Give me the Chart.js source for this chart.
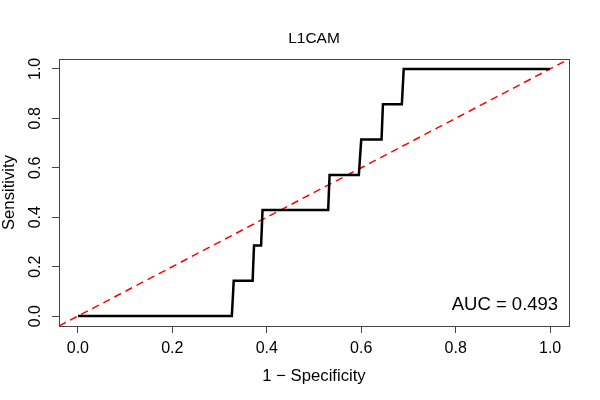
<!DOCTYPE html>
<html>
<head>
<meta charset="utf-8">
<script src="https://cdn.jsdelivr.net/npm/chart.js@4.4.0/dist/chart.umd.min.js"></script>
<style>
  html, body { margin: 0; padding: 0; background: #fff; }
  #wrap { width: 600px; height: 400px; }
</style>
</head>
<body>
<div id="wrap"><canvas id="roc"></canvas></div>
<script>
// ROC curve for L1CAM
var markerName = "L1CAM";
var aucValue = 0.493;
var fpr = [0, 0.326, 0.330, 0.370, 0.373, 0.388, 0.391, 0.530, 0.533, 0.595, 0.600, 0.643, 0.646, 0.686, 0.690, 1.0];
var tpr = [0, 0, 0.143, 0.143, 0.286, 0.286, 0.429, 0.429, 0.571, 0.571, 0.714, 0.714, 0.857, 0.857, 1.0, 1.0];
var refLine = [-0.04, 1.04];
var axisTicks = [0, 0.2, 0.4, 0.6, 0.8, 1.0];

var FONT = "'Liberation Sans', Arial, sans-serif";

function toPoints(xs, ys) {
    var pts = [];
    for (var i = 0; i < xs.length; i++) {
        pts.push({ x: xs[i], y: ys[i] });
    }
    return pts;
}

// R style box around the plot region, main title over the plot and the AUC label
const boxPlugin = {
    id: "rbox",
    afterDraw(chart) {
        const ctx = chart.ctx;
        const a = chart.chartArea;
        ctx.save();
        ctx.strokeStyle = "#444";
        ctx.lineWidth = 1;
        ctx.strokeRect(Math.round(a.left) + 0.5, Math.round(a.top) + 0.5,
            Math.round(a.right - a.left), Math.round(a.bottom - a.top));

        ctx.fillStyle = "#000";
        ctx.textBaseline = "middle";
        ctx.textAlign = "center";
        ctx.font = "15.5px " + FONT;
        ctx.fillText(markerName, (a.left + a.right) / 2, 38.5);

        const xs = chart.scales.x, ys = chart.scales.y;
        ctx.font = "18.5px " + FONT;
        ctx.textAlign = "right";
        ctx.fillText("AUC = " + aucValue.toFixed(3), xs.getPixelForValue(1.017), ys.getPixelForValue(0.045));
        ctx.restore();
    }
};

const config = {
    type: "scatter",
    data: {
        datasets: [
            {
                label: "ROC",
                data: toPoints(fpr, tpr),
                showLine: true,
                borderColor: "#000",
                borderWidth: 2.5,
                pointRadius: 0,
                fill: false,
                tension: 0
            },
            {
                label: "chance",
                data: toPoints(refLine, refLine),
                showLine: true,
                borderColor: "#ff0000",
                borderWidth: 1.5,
                borderDash: [7.5, 5],
                pointRadius: 0,
                fill: false
            }
        ]
    },
    options: {
        responsive: true,
        maintainAspectRatio: false,
        animation: false,
        layout: { padding: { left: 0, right: 31, top: 59, bottom: 0 } },
        plugins: {
            legend: { display: false },
            tooltip: { enabled: false },
            title: { display: false }
        },
        scales: {
            x: {
                type: "linear",
                min: -0.04,
                max: 1.04,
                afterFit(scale) { scale.height = 74; },
                afterBuildTicks(scale) { scale.ticks = axisTicks.map(v => ({ value: v })); },
                grid: { drawOnChartArea: false, drawTicks: true, tickLength: 7, color: "#444" },
                border: { display: false },
                ticks: {
                    color: "#000",
                    padding: 6,
                    maxRotation: 0,
                    font: { family: FONT, size: 16 },
                    callback: v => v.toFixed(1)
                },
                title: {
                    display: true,
                    text: "1 \u2212 Specificity",
                    color: "#000",
                    font: { family: FONT, size: 16.7, lineHeight: 1.2 },
                    padding: { top: 0, bottom: 14 }
                }
            },
            y: {
                type: "linear",
                min: -0.04,
                max: 1.04,
                afterFit(scale) { scale.width = 59; },
                afterBuildTicks(scale) { scale.ticks = axisTicks.map(v => ({ value: v })); },
                grid: { drawOnChartArea: false, drawTicks: true, tickLength: 7, color: "#444" },
                border: { display: false },
                ticks: {
                    color: "#000",
                    padding: 5,
                    minRotation: 90,
                    maxRotation: 90,
                    crossAlign: "center",
                    font: { family: FONT, size: 16 },
                    callback: v => v.toFixed(1)
                },
                title: {
                    display: true,
                    text: "Sensitivity",
                    color: "#000",
                    font: { family: FONT, size: 16.7, lineHeight: 1 },
                    padding: { top: 1, bottom: 0 }
                }
            }
        }
    },
    plugins: [boxPlugin]
};

new Chart(document.getElementById("roc"), config);
</script>
</body>
</html>
